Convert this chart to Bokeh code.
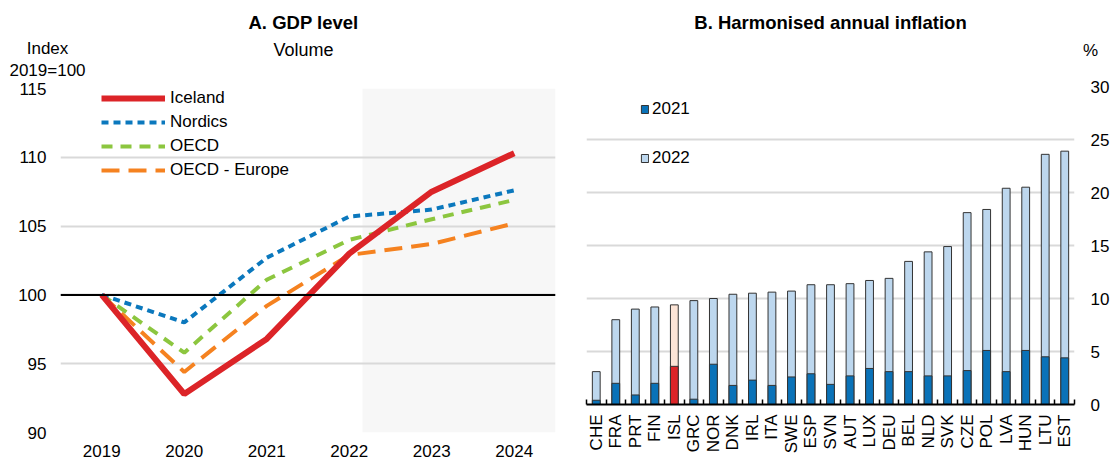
from math import pi

from bokeh.embed import file_html
from bokeh.layouts import column, row
from bokeh.models import (BoxAnnotation, ColumnDataSource, FixedTicker, Label,
                          Legend, LegendItem, Range1d, Span)
from bokeh.plotting import figure
from bokeh.resources import INLINE

FONT = "Liberation Sans"

# ---------------- Panel A: GDP level (index 2019=100) ----------------
years = ["2019", "2020", "2021", "2022", "2023", "2024"]
iceland = [100.0, 92.8, 96.8, 103.0, 107.5, 110.3]
nordics = [100.0, 98.0, 102.7, 105.7, 106.2, 107.6]
oecd = [100.0, 95.8, 101.1, 104.0, 105.5, 106.9]
oecd_europe = [100.0, 94.4, 99.2, 102.9, 103.7, 105.2]
projection_start = 3.16  # shaded projection period starts after 2022

# ---------------- Panel B: harmonised annual inflation (%) ----------------
countries = ["CHE", "FRA", "PRT", "FIN", "ISL", "GRC", "NOR", "DNK", "IRL",
             "ITA", "SWE", "ESP", "SVN", "AUT", "LUX", "DEU", "BEL", "NLD",
             "SVK", "CZE", "POL", "LVA", "HUN", "LTU", "EST"]
infl_2021 = [0.4, 2.0, 0.9, 2.0, 3.6, 0.5, 3.8, 1.8, 2.3, 1.8, 2.6, 2.9, 1.9,
             2.7, 3.4, 3.1, 3.1, 2.7, 2.7, 3.2, 5.1, 3.1, 5.1, 4.5, 4.4]
infl_2022 = [3.1, 8.0, 9.0, 9.2, 9.4, 9.8, 10.0, 10.4, 10.5, 10.6, 10.7, 11.3,
             11.3, 11.4, 11.7, 11.9, 13.5, 14.4, 14.9, 18.1, 18.4, 20.4, 20.5,
             23.6, 23.9]
highlight = "ISL"

RED = "#dc2428"
BLUE = "#0b78bd"
GREEN = "#8cc63f"
ORANGE = "#f58220"
DARK_BAR = "#0a72b8"
LIGHT_BAR = "#bdd7ee"
PEACH = "#fce4d6"
GRID = "#d9d9d9"


def style_common(p):
    p.outline_line_color = None
    p.background_fill_color = "white"
    p.border_fill_color = "white"
    for ax in p.axis:
        ax.major_label_text_font = FONT
        ax.major_label_text_font_size = "17px"
        ax.major_label_text_color = "black"
        ax.major_tick_line_color = None
        ax.minor_tick_line_color = None
        ax.axis_line_color = None
    p.xgrid.grid_line_color = None
    p.ygrid.grid_line_color = GRID
    p.ygrid.grid_line_width = 2


def add_heading(p, txt, x, y, style="normal", size="17px"):
    # each heading sits in its own strip of the panel above the frame;
    # x is measured from the frame's left edge, y upwards from the strip base
    p.add_layout(Label(x=x, y=y, x_units="screen", y_units="screen", text=txt,
                       text_align="center", text_baseline="middle",
                       text_font=FONT, text_font_size=size,
                       text_font_style=style, text_color="black"), "above")


# ---- Panel A ----
xs = list(range(len(years)))
p1 = figure(width=570, height=459, output_backend="svg", toolbar_location=None,
            x_range=Range1d(-0.5, len(years) - 0.5), y_range=Range1d(90, 115),
            min_border_left=60, min_border_right=15, min_border_top=88,
            min_border_bottom=25)
p1.xaxis.ticker = FixedTicker(ticks=xs)
p1.xaxis.major_label_overrides = {i: y for i, y in zip(xs, years)}
p1.yaxis.ticker = FixedTicker(ticks=[90, 95, 100, 105, 110, 115])
style_common(p1)
p1.yaxis.major_label_standoff = 8
p1.xaxis.major_label_standoff = 6

p1.add_layout(BoxAnnotation(left=projection_start, fill_color="#f7f7f7",
                            fill_alpha=1.0, line_color=None, level="image"))
p1.add_layout(Span(location=100, dimension="width", line_color="black",
                   line_width=2))

r_oe = p1.line(xs, oecd_europe, line_color=ORANGE, line_width=4,
               line_dash="18 9")
r_oecd = p1.line(xs, oecd, line_color=GREEN, line_width=4, line_dash="11 8")
r_nor = p1.line(xs, nordics, line_color=BLUE, line_width=4, line_dash="7 5")
r_isl = p1.line(xs, iceland, line_color=RED, line_width=6)

leg1 = Legend(items=[LegendItem(label="Iceland", renderers=[r_isl]),
                     LegendItem(label="Nordics", renderers=[r_nor]),
                     LegendItem(label="OECD", renderers=[r_oecd]),
                     LegendItem(label="OECD - Europe", renderers=[r_oe])],
              location=(41, 252), orientation="vertical",
              glyph_width=64, glyph_height=20, label_height=20, spacing=4,
              label_standoff=5, padding=0, margin=0,
              border_line_color=None, background_fill_alpha=0,
              label_text_font=FONT, label_text_font_size="17px",
              label_text_color="black")
p1.add_layout(leg1)

add_heading(p1, "A. GDP level", 243, 66, "bold", "18.5px")
add_heading(p1, "Volume", 243, 18, "normal", "18px")
add_heading(p1, "Index", -13, -1)
add_heading(p1, "2019=100", -13, -42)

# ---- Panel B ----
idx = list(range(len(countries)))
src = ColumnDataSource(dict(
    x=idx,
    v21=infl_2021,
    v22=infl_2022,
    c21=[RED if c == highlight else DARK_BAR for c in countries],
    c22=[PEACH if c == highlight else LIGHT_BAR for c in countries],
))

p2 = figure(width=542, height=459, output_backend="svg", toolbar_location=None,
            x_range=Range1d(-0.5, len(countries) - 0.5), y_range=Range1d(0, 30),
            y_axis_location="right",
            min_border_left=16, min_border_right=37, min_border_top=86,
            min_border_bottom=55)
p2.xaxis.ticker = FixedTicker(ticks=idx,
                              minor_ticks=[i - 0.5 for i in range(len(countries) + 1)])
p2.xaxis.major_label_overrides = {i: c for i, c in zip(idx, countries)}
p2.yaxis.ticker = FixedTicker(ticks=[0, 5, 10, 15, 20, 25, 30])
style_common(p2)
p2.xaxis.major_label_orientation = pi / 2
p2.xaxis.major_label_standoff = 4
p2.xaxis.axis_line_color = "black"
p2.xaxis.axis_line_width = 2
p2.xaxis.minor_tick_line_color = "black"
p2.xaxis.minor_tick_line_width = 1.5
p2.xaxis.minor_tick_in = 5
p2.xaxis.minor_tick_out = 0
p2.yaxis.major_label_standoff = 10

bar_w = 0.4
r22 = p2.vbar(x="x", top="v22", width=bar_w, source=src, fill_color="c22",
              line_color="#333333", line_width=1)
r21 = p2.vbar(x="x", top="v21", width=bar_w, source=src, fill_color="c21",
              line_color="#333333", line_width=1)

leg2 = Legend(items=[LegendItem(label="2021", renderers=[r21], index=0),
                     LegendItem(label="2022", renderers=[r22], index=0)],
              location=(54, 236), orientation="vertical",
              glyph_width=9, glyph_height=10, label_height=10, spacing=29,
              label_standoff=3, padding=0, margin=0,
              border_line_color=None, background_fill_alpha=0,
              label_text_font=FONT, label_text_font_size="17px",
              label_text_color="black")
p2.add_layout(leg2)

add_heading(p2, "B. Harmonised annual inflation", 244, 64, "bold", "18.5px")
add_heading(p2, "%", 504, 15)

layout = row(column(p1), column(p2), spacing=0)
open("out.html", "w").write(file_html(layout, INLINE))
